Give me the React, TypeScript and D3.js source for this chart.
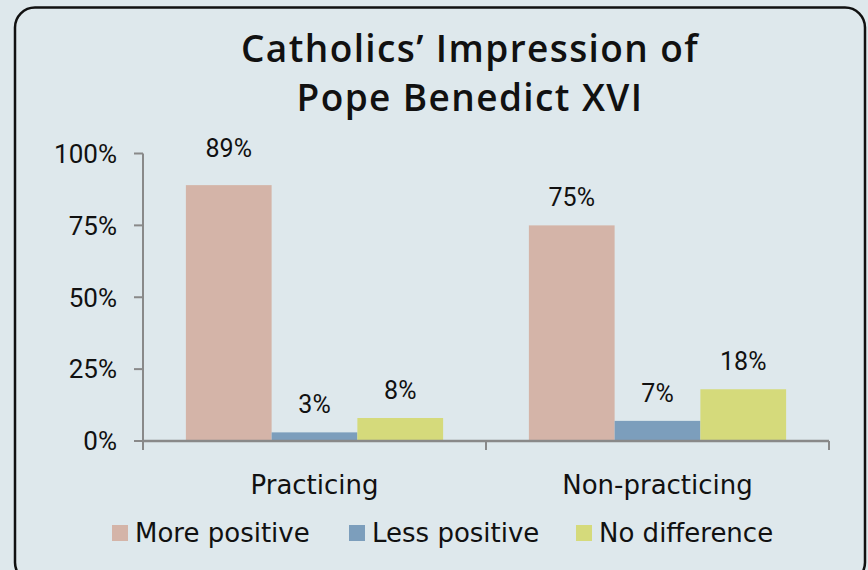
import React from "react";
import * as d3 from "d3";

const categories = ["Practicing", "Non-practicing"];
const seriesNames = ["More positive", "Less positive", "No difference"];
const morePositive = [89, 75];
const lessPositive = [3, 7];
const noDifference = [8, 18];
const yTicks = [0, 25, 50, 75, 100];
const titleLines = ["Catholics\u2019 Impression of", "Pope Benedict XVI"];
const colors = ["#d4b4a8", "#7c9ebc", "#d5da7b"];

const W = 868;
const H = 570;
const labelFont = "'DejaVu Sans', Verdana, sans-serif";
const titleFont = "'Open Sans', 'DejaVu Sans', sans-serif";
const tickFont = "Roboto, 'Open Sans', sans-serif";

export default function App() {
  const series = [morePositive, lessPositive, noDifference];
  const plotLeft = 143;
  const plotRight = 829;
  const y = d3.scaleLinear().domain([0, 100]).range([441, 153.5]);
  const x0 = d3.scaleBand<string>().domain(categories).range([plotLeft, plotRight]).paddingInner(0).paddingOuter(0);
  const x1 = d3
    .scaleBand<string>()
    .domain(seriesNames)
    .range([0, x0.bandwidth()])
    .paddingOuter(0.5)
    .paddingInner(0);

  return (
    <div style={{ position: "absolute", left: 0, top: 0 }}>
      <svg width={W} height={H} style={{ display: "block" }}>
        <rect x={0} y={0} width={W} height={H} fill="#dee8ec" />
        <rect x={15} y={7.5} width={850} height={575} rx={20} ry={20} fill="#dee8ec" stroke="#111" strokeWidth={2.5} />
        {titleLines.map((t, i) => (
          <text
            key={i}
            x={470}
            y={62 + i * 49}
            textAnchor="middle"
            fontFamily={titleFont}
            fontWeight={600}
            fontSize={37}
            letterSpacing={1.4}
            fill="#111"
          >
            {t}
          </text>
        ))}
        {/* bars */}
        {categories.map((c, ci) => (
          <g key={c} transform={`translate(${x0(c)},0)`}>
            {seriesNames.map((s, si) => {
              const v = series[si][ci];
              const bx = x1(s)!;
              return (
                <g key={s}>
                  <rect x={bx} y={y(v)} width={x1.bandwidth()} height={y(0) - y(v)} fill={colors[si]} />
                  <text
                    x={bx + x1.bandwidth() / 2}
                    y={y(v) - 19 - (v > 85 ? 9 : 0)}
                    textAnchor="middle"
                    fontFamily={tickFont}
                    fontSize={25}
                    fill="#111"
                  >
                    {v}%
                  </text>
                </g>
              );
            })}
          </g>
        ))}
        {/* y axis */}
        <line x1={plotLeft} x2={plotLeft} y1={y(100)} y2={y(0) + 9} stroke="#898989" strokeWidth={2} />
        {yTicks.map((t) => (
          <g key={t}>
            <line x1={plotLeft - 9} x2={plotLeft} y1={y(t)} y2={y(t)} stroke="#898989" strokeWidth={2} />
            <text
              x={117}
              y={y(t)}
              dy="0.36em"
              textAnchor="end"
              fontFamily={tickFont}
              fontSize={26}
              fill="#111"
            >
              {t}%
            </text>
          </g>
        ))}
        {/* x axis */}
        <line x1={plotLeft} x2={plotRight} y1={y(0)} y2={y(0)} stroke="#898989" strokeWidth={2.5} />
        {[plotLeft, ...categories.map((c) => x0(c)! + x0.bandwidth())].map((tx, i) => (
          <line key={i} x1={tx} x2={tx} y1={y(0)} y2={y(0) + 9} stroke="#898989" strokeWidth={2} />
        ))}
        {categories.map((c) => (
          <text
            key={c}
            x={x0(c)! + x0.bandwidth() / 2}
            y={494}
            textAnchor="middle"
            fontFamily={labelFont}
            fontSize={26}
            fill="#111"
          >
            {c}
          </text>
        ))}
        {/* legend */}
        {seriesNames.map((s, i) => {
          const lx = [112, 349, 576][i];
          return (
            <g key={s}>
              <rect x={lx} y={525} width={16} height={16} fill={colors[i]} />
              <text x={lx + 23} y={542} fontFamily={labelFont} fontSize={26} fill="#111">
                {s}
              </text>
            </g>
          );
        })}
      </svg>
    </div>
  );
}
